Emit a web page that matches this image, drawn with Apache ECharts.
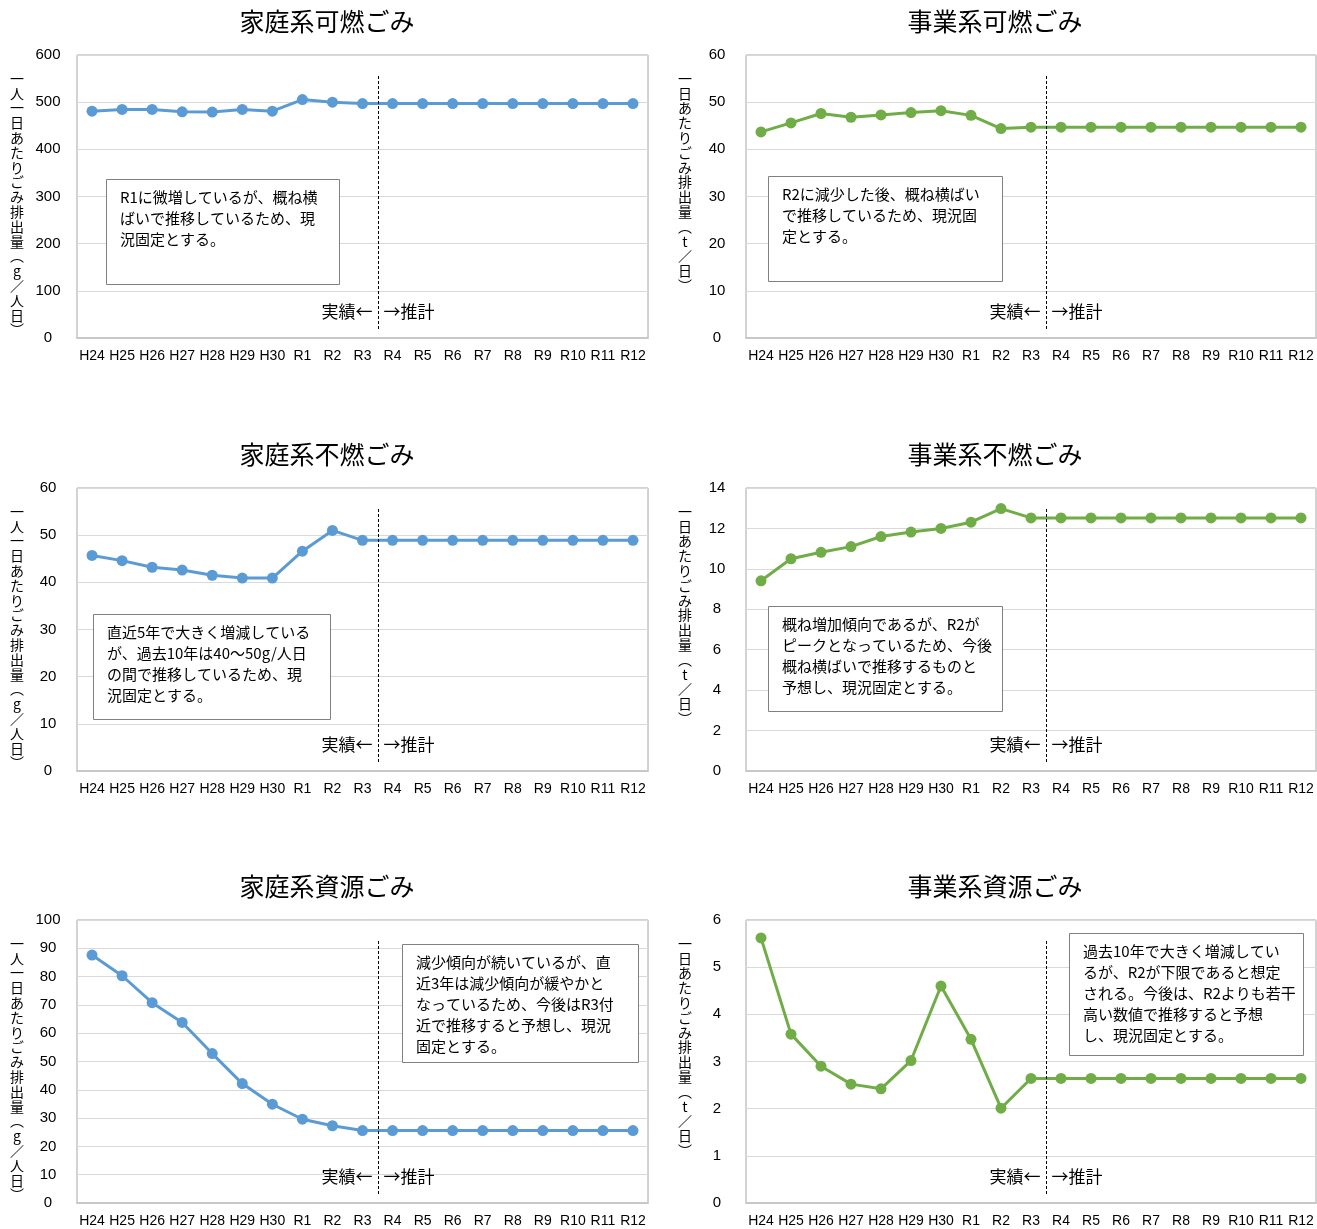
<!DOCTYPE html>
<html lang="ja">
<head>
<meta charset="utf-8">
<title>ごみ排出量の推計</title>
<script src="https://cdn.jsdelivr.net/npm/echarts@6/dist/echarts.min.js"></script>
<style>
  html, body { margin: 0; padding: 0; background: #fff; }
  #chart { width: 1317px; height: 1229px; }
</style>
</head>
<body>
<div id="chart"></div>
<script>
// 年度（R3まで実績、R4以降推計）
const years = ['H24', 'H25', 'H26', 'H27', 'H28', 'H29', 'H30', 'R1', 'R2', 'R3',
  'R4', 'R5', 'R6', 'R7', 'R8', 'R9', 'R10', 'R11', 'R12']

const kateiKanen = [481, 484.5, 484.5, 479.5, 479, 484.5, 481, 505.5, 500, 497,
  497, 497, 497, 497, 497, 497, 497, 497, 497]
const jigyoKanen = [43.7, 45.6, 47.6, 46.8, 47.3, 47.8, 48.2, 47.2, 44.4, 44.7,
  44.7, 44.7, 44.7, 44.7, 44.7, 44.7, 44.7, 44.7, 44.7]
const kateiFunen = [45.7, 44.6, 43.2, 42.6, 41.5, 40.9, 40.9, 46.6, 51.0, 48.9,
  48.9, 48.9, 48.9, 48.9, 48.9, 48.9, 48.9, 48.9, 48.9]
const jigyoFunen = [9.41, 10.5, 10.82, 11.1, 11.6, 11.82, 12.0, 12.31, 12.98, 12.52,
  12.52, 12.52, 12.52, 12.52, 12.52, 12.52, 12.52, 12.52, 12.52]
const kateiShigen = [87.6, 80.3, 70.8, 63.8, 52.8, 42.2, 34.9, 29.6, 27.3, 25.6,
  25.6, 25.6, 25.6, 25.6, 25.6, 25.6, 25.6, 25.6, 25.6]
const jigyoShigen = [5.62, 3.58, 2.90, 2.52, 2.42, 3.02, 4.60, 3.47, 2.01, 2.64,
  2.64, 2.64, 2.64, 2.64, 2.64, 2.64, 2.64, 2.64, 2.64]

const titles = ['家庭系可燃ごみ', '事業系可燃ごみ', '家庭系不燃ごみ', '事業系不燃ごみ', '家庭系資源ごみ', '事業系資源ごみ']
const yMax = [600, 60, 60, 14, 100, 6]
const yStep = [100, 10, 10, 2, 10, 1]
const yNameKatei = '一人一日あたりごみ排出量︵g／人日︶'
const yNameJigyo = '一日あたりごみ排出量︵t／日︶'

const notes = [
  ['R1に微増しているが、概ね横', 'ばいで推移しているため、現', '況固定とする。'],
  ['R2に減少した後、概ね横ばい', 'で推移しているため、現況固', '定とする。'],
  ['直近5年で大きく増減している', 'が、過去10年は40～50g/人日', 'の間で推移しているため、現', '況固定とする。'],
  ['概ね増加傾向であるが、R2が', 'ピークとなっているため、今後', '概ね横ばいで推移するものと', '予想し、現況固定とする。'],
  ['減少傾向が続いているが、直', '近3年は減少傾向が緩やかと', 'なっているため、今後はR3付', '近で推移すると予想し、現況', '固定とする。'],
  ['過去10年で大きく増減してい', 'るが、R2が下限であると想定', 'される。今後は、R2よりも若干', '高い数値で推移すると予想', 'し、現況固定とする。']
]
const seriesData = [kateiKanen, jigyoKanen, kateiFunen, jigyoFunen, kateiShigen, jigyoShigen]

// レイアウト
const BLUE = '#5b9bd5'
const GREEN = '#70ad47'
const JP = '"Noto Sans CJK JP", "Noto Sans CJK SC", sans-serif'
const colLeft = [77, 746]
const colWidth = [571, 570]
const rowTop = [55, 488, 920]
const gridH = 283
const titleX = [327, 995]
const boxes = [
  [106, 179, 233, 105], [768, 176, 234, 105],
  [93, 614, 237, 105], [768, 606, 234, 105],
  [402, 944, 236, 118], [1069, 933, 234, 122]
]
const yNameX = [17, 685]

const chart = echarts.init(document.getElementById('chart'))

const grid = [], xAxis = [], yAxis = [], series = [], title = []
titles.forEach((t, i) => {
  const col = i % 2, row = Math.floor(i / 2)
  grid.push({
    left: colLeft[col], top: rowTop[row], width: colWidth[col], height: gridH,
    show: true, borderColor: '#a6a6a6', borderWidth: 1, containLabel: false
  })
  title.push({
    text: t, left: titleX[col], top: rowTop[row] - 46, textAlign: 'center', padding: 0,
    textStyle: { fontFamily: JP, fontSize: 25, fontWeight: 'normal', color: '#000' }
  })
  xAxis.push({
    type: 'category', gridIndex: i, data: years, boundaryGap: true,
    axisLine: { lineStyle: { color: '#c8c8c8', width: 2 } },
    axisTick: { show: false },
    axisLabel: { color: '#000', fontFamily: 'Liberation Sans, Arial, sans-serif', fontSize: 14, margin: 11, interval: 0 }
  })
  yAxis.push({
    type: 'value', gridIndex: i, min: 0, max: yMax[i], interval: yStep[i],
    axisLine: { show: false }, axisTick: { show: false },
    axisLabel: { color: '#000', fontFamily: '"Liberation Sans Narrow", "Liberation Sans", sans-serif', fontSize: 15, margin: 29, align: 'center', padding: [3, 0, 0, 0] },
    splitLine: { lineStyle: { color: '#d9d9d9', width: 1 } }
  })
  const c = col === 0 ? BLUE : GREEN
  series.push({
    type: 'line', xAxisIndex: i, yAxisIndex: i, data: seriesData[i],
    symbol: 'circle', symbolSize: 11, showSymbol: true,
    lineStyle: { color: c, width: 3 }, itemStyle: { color: c },
    z: 3
  })
})

chart.setOption({
  animation: false,
  backgroundColor: '#fff',
  title, grid, xAxis, yAxis, series
})

// 注記・区切り線・縦書き軸名
const graphic = []
titles.forEach((t, i) => {
  const col = i % 2, row = Math.floor(i / 2)
  const top = rowTop[row], bottom = rowTop[row] + gridH
  const x3 = chart.convertToPixel({ gridIndex: i }, [9, 0])[0]
  const x4 = chart.convertToPixel({ gridIndex: i }, [10, 0])[0]
  const lx = Math.round((x3 + x4) / 2) + 0.5
  graphic.push({
    type: 'line', shape: { x1: lx, y1: top + 21, x2: lx, y2: bottom - 9 },
    style: { stroke: '#000', lineWidth: 1, lineDash: [3, 2] }, z: 10
  })
  graphic.push({
    type: 'text', x: lx - 6, y: bottom - 26,
    style: { text: '実績←', align: 'right', verticalAlign: 'middle', fontFamily: JP, fontSize: 17, fill: '#000' }, z: 10
  })
  graphic.push({
    type: 'text', x: lx + 5, y: bottom - 26,
    style: { text: '→推計', align: 'left', verticalAlign: 'middle', fontFamily: JP, fontSize: 17, fill: '#000' }, z: 10
  })
  const b = boxes[i]
  graphic.push({
    type: 'rect', shape: { x: b[0] + 0.5, y: b[1] + 0.5, width: b[2], height: b[3] },
    style: { fill: '#fff', stroke: '#808080', lineWidth: 1 }, z: 20
  })
  graphic.push({
    type: 'text', x: b[0] + 14, y: b[1] + 8,
    style: { text: notes[i].join('\n'), fontFamily: JP, fontSize: 15, lineHeight: 21, fill: '#000', align: 'left', verticalAlign: 'top' }, z: 21
  })
  const yName = col === 0 ? yNameKatei : yNameJigyo
  graphic.push({
    type: 'text', x: yNameX[col], y: top + 16,
    style: { text: yName.split('').join('\n'), fontFamily: JP, fontSize: 14, lineHeight: 14.8, fill: '#000', align: 'center', verticalAlign: 'top' }, z: 10
  })
})
chart.setOption({ graphic })
</script>
</body>
</html>
